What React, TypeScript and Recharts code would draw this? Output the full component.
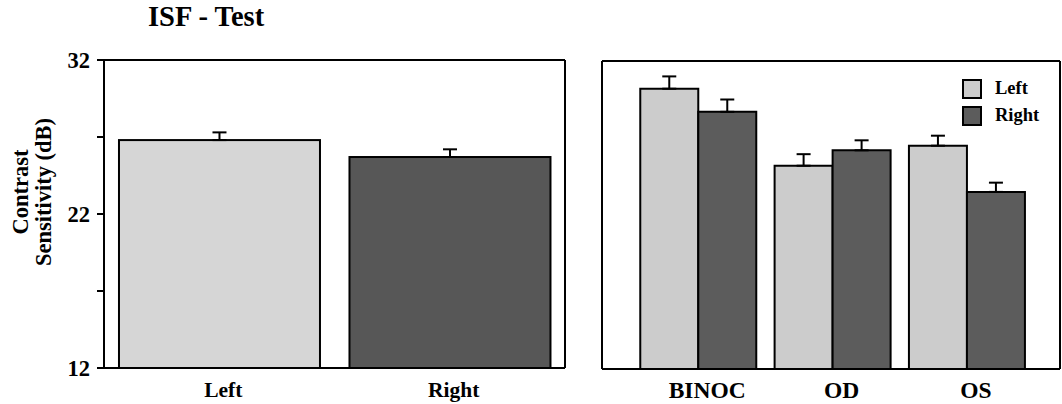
import React from 'react';
import { BarChart, Bar, XAxis, YAxis, ErrorBar } from 'recharts';

const FONT = '"Liberation Serif", "Times New Roman", serif';

const leftCats = ['Left', 'Right'];
const leftValues = [26.8, 25.7];
const leftErrors = [0.5, 0.5];

const rightCats = ['BINOC', 'OD', 'OS'];
const rightLeftValues = [30.2, 25.2, 26.5];
const rightLeftErrors = [0.8, 0.75, 0.65];
const rightRightValues = [28.7, 26.2, 23.5];
const rightRightErrors = [0.8, 0.65, 0.6];

const seriesNames = ['Left', 'Right'];

const yTicks = [12, 17, 22, 27, 32];
const yLabelTicks = [12, 22, 32];

const leftData = leftCats.map((c, i) => ({ cat: c, v: leftValues[i], e: [0, leftErrors[i]] }));
const rightData = rightCats.map((c, i) => ({
  cat: c,
  l: rightLeftValues[i],
  le: [0, rightLeftErrors[i]],
  r: rightRightValues[i],
  re: [0, rightRightErrors[i]],
}));

const LIGHT_L = '#d6d6d6';
const DARK_L = '#575757';
const LIGHT_R = '#cccccc';
const DARK_R = '#5c5c5c';

const axisLine = { stroke: '#000', strokeWidth: 2 };
const tickLine = { stroke: '#000', strokeWidth: 2 };

const YLabel = () => (
  <g transform="translate(0,192) rotate(-90)">
    <text textAnchor="middle" fontFamily={FONT} fontWeight="bold" fontSize={22.5} fill="#000">
      <tspan x={0} y={28}>Contrast</tspan>
      <tspan x={0} y={51}>Sensitivity (dB)</tspan>
    </text>
  </g>
);

const LegendBox = () => (
  <div
    style={{
      position: 'absolute',
      left: 962,
      top: 75,
      fontFamily: FONT,
      fontWeight: 'bold',
      fontSize: 18.5,
      color: '#000',
    }}
  >
    {seriesNames.map((name, i) => (
      <div key={name} style={{ display: 'flex', alignItems: 'center', height: 27 }}>
        <div
          style={{
            width: 16,
            height: 16,
            border: '2px solid #000',
            background: i === 0 ? LIGHT_R : DARK_R,
            marginRight: 13,
          }}
        />
        <span>{name}</span>
      </div>
    ))}
  </div>
);

export default function App() {
  return (
    <div style={{ position: 'absolute', left: 0, top: 0, width: 1062, height: 404, background: '#fff' }}>
      <div
        style={{
          position: 'absolute',
          left: 148,
          top: 1,
          fontFamily: FONT,
          fontWeight: 'bold',
          fontSize: 28.5,
          lineHeight: '32px',
          color: '#000',
        }}
      >
        ISF - Test
      </div>
      <div style={{ position: 'absolute', left: 0, top: 0 }}>
        <BarChart
          width={572}
          height={404}
          data={leftData}
          margin={{ top: 55, right: 1, bottom: 6, left: 44 }}
          barCategoryGap="6.5%"
        >
          <XAxis
            dataKey="cat"
            xAxisId="b"
            axisLine={axisLine}
            tickLine={false}
            tick={{ fontFamily: FONT, fontWeight: 'bold', fontSize: 21.5, fill: '#000', dx: 4 }}
            tickMargin={8}
            height={30}
            interval={0}
          />
          <XAxis
            dataKey="cat"
            xAxisId="t"
            orientation="top"
            axisLine={axisLine}
            tickLine={tickLine}
            tickSize={3}
            tick={false}
            height={5}
          />
          <YAxis
            yAxisId="l"
            domain={[12, 32]}
            ticks={yTicks}
            interval={0}
            axisLine={axisLine}
            tickLine={tickLine}
            tickSize={7}
            tickMargin={7}
            width={60}
            tick={{ fontFamily: FONT, fontWeight: 'bold', fontSize: 22.5, fill: '#000' }}
            tickFormatter={(v: number) => (yLabelTicks.includes(v) ? String(v) : '')}
          />
          <YAxis
            yAxisId="r"
            orientation="right"
            domain={[12, 32]}
            ticks={yTicks}
            interval={0}
            axisLine={axisLine}
            tickLine={tickLine}
            tickSize={6}
            tick={false}
            width={6}
          />
          <Bar
            dataKey="v"
            xAxisId="b"
            yAxisId="l"
            stroke="#000"
            strokeWidth={2}
            isAnimationActive={false}
            shape={(p: any) => (
              <rect
                x={p.x}
                y={p.y}
                width={p.width}
                height={p.height}
                fill={p.index === 0 ? LIGHT_L : DARK_L}
                stroke="#000"
                strokeWidth={2}
              />
            )}
          >
            <ErrorBar dataKey="e" width={7} stroke="#000" strokeWidth={2} direction="y" />
          </Bar>
        </BarChart>
        <svg style={{ position: 'absolute', left: 0, top: 0 }} width={70} height={404}>
          <YLabel />
        </svg>
      </div>
      <div style={{ position: 'absolute', left: 572, top: 0 }}>
        <BarChart
          width={490}
          height={404}
          data={rightData}
          margin={{ top: 56, right: 1, bottom: 5, left: 23 }}
          barCategoryGap="6.9%"
          barGap={0}
        >
          <XAxis
            dataKey="cat"
            xAxisId="b"
            axisLine={axisLine}
            tickLine={false}
            padding={{ left: 29, right: 26 }}
            tick={{ fontFamily: FONT, fontWeight: 'bold', fontSize: 23.5, fill: '#000', dx: 9 }}
            tickMargin={6}
            height={30}
            interval={0}
          />
          <XAxis
            dataKey="cat"
            xAxisId="t"
            orientation="top"
            padding={{ left: 29, right: 26 }}
            axisLine={axisLine}
            tickLine={tickLine}
            tickSize={3}
            tick={false}
            height={5}
          />
          <YAxis
            yAxisId="l"
            domain={[12, 32]}
            ticks={yTicks}
            interval={0}
            axisLine={axisLine}
            tickLine={tickLine}
            tickSize={6}
            tick={false}
            width={7}
          />
          <YAxis
            yAxisId="r"
            orientation="right"
            domain={[12, 32]}
            ticks={yTicks}
            interval={0}
            axisLine={axisLine}
            tickLine={false}
            tick={false}
            width={1}
          />
          <Bar dataKey="l" name="Left" xAxisId="b" yAxisId="l" fill={LIGHT_R} stroke="#000" strokeWidth={2} isAnimationActive={false}>
            <ErrorBar dataKey="le" width={7} stroke="#000" strokeWidth={2} direction="y" />
          </Bar>
          <Bar dataKey="r" name="Right" xAxisId="b" yAxisId="l" fill={DARK_R} stroke="#000" strokeWidth={2} isAnimationActive={false}>
            <ErrorBar dataKey="re" width={7} stroke="#000" strokeWidth={2} direction="y" />
          </Bar>
        </BarChart>
      </div>
      <LegendBox />
    </div>
  );
}
